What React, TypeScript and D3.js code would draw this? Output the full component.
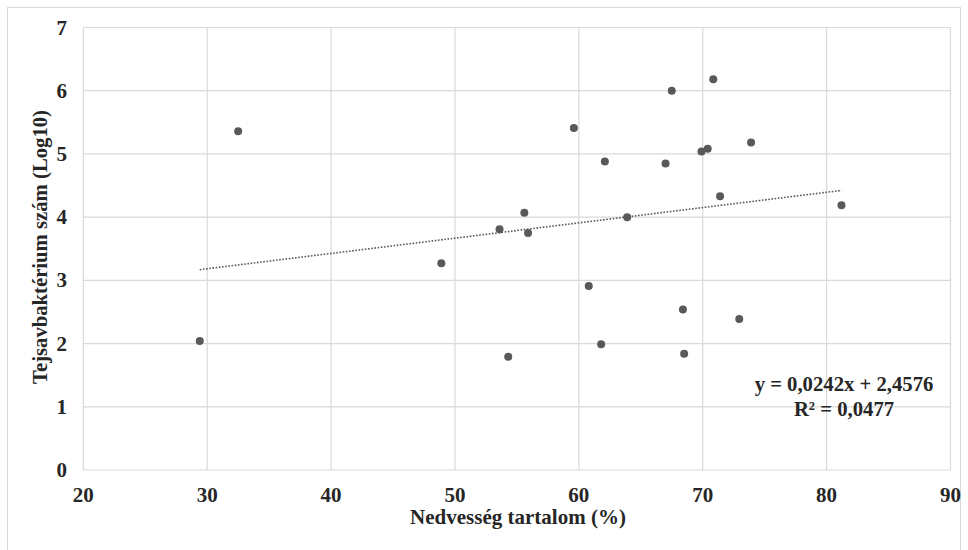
import React from "react";
import * as d3 from "d3";

const moisture = [29.4, 32.5, 48.9, 53.6, 55.6, 55.9, 54.3, 59.6, 60.8, 61.8, 62.1, 63.9, 67.0, 67.5, 68.4, 68.5, 69.9, 70.4, 70.85, 71.4, 72.95, 73.9, 81.2];
const lacticLog = [2.04, 5.36, 3.27, 3.81, 4.07, 3.75, 1.79, 5.41, 2.91, 1.99, 4.88, 4.0, 4.85, 6.0, 2.54, 1.84, 5.04, 5.08, 6.18, 4.33, 2.39, 5.18, 4.19];
const xTicks = [20, 30, 40, 50, 60, 70, 80, 90];
const yTicks = [0, 1, 2, 3, 4, 5, 6, 7];
const slope = 0.0242;
const intercept = 2.4576;
const eqLabel = "y = 0,0242x + 2,4576";
const r2Label = "R² = 0,0477";
const xTitle = "Nedvesség tartalom (%)";
const yTitle = "Tejsavbaktérium szám (Log10)";

export default function App() {
  const W = 968, H = 550;
  const left = 83.3, right = 950.5, top = 27.5, bottom = 470;
  const x = d3.scaleLinear().domain([20, 90]).range([left, right]);
  const y = d3.scaleLinear().domain([0, 7]).range([bottom, top]);
  const minX = d3.min(moisture) as number;
  const maxX = d3.max(moisture) as number;
  const line = d3.line<number>().x((d) => x(d)).y((d) => y(slope * d + intercept));
  const font = "'Liberation Serif', 'Times New Roman', serif";
  const grid = "#d9d9d9";
  const txt = "#262626";
  return (
    <svg width={W} height={H} style={{ position: "absolute", left: 0, top: 0 }} fontFamily={font}>
      <rect x={0} y={0} width={W} height={H} fill="#fff" />
      <rect x={7.5} y={7.5} width={953} height={560} fill="none" stroke="#d9d9d9" strokeWidth={1} />
      {xTicks.map((t) => (
        <line key={"gx" + t} x1={x(t)} x2={x(t)} y1={y(7)} y2={y(0)} stroke={grid} strokeWidth={1.2} />
      ))}
      {yTicks.map((t) => (
        <line key={"gy" + t} x1={x(20)} x2={x(90)} y1={y(t)} y2={y(t)} stroke={grid} strokeWidth={1.2} />
      ))}
      {xTicks.map((t) => (
        <text key={"tx" + t} x={x(t)} y={502} textAnchor="middle" fontSize={21} fontWeight="bold" fill={txt}>
          {t}
        </text>
      ))}
      {yTicks.map((t) => (
        <text key={"ty" + t} x={67} y={y(t) + 7} textAnchor="end" fontSize={21} fontWeight="bold" fill={txt}>
          {t}
        </text>
      ))}
      <path d={line([minX, maxX]) || ""} fill="none" stroke="#595959" strokeWidth={1.6} strokeDasharray="1.6 1.6" />
      {moisture.map((m, i) => (
        <circle key={"p" + i} cx={x(m)} cy={y(lacticLog[i])} r={4} fill="#595959" />
      ))}
      <text x={844} y={391} textAnchor="middle" fontSize={20.7} fontWeight="bold" fill={txt}>{eqLabel}</text>
      <text x={844} y={416} textAnchor="middle" fontSize={20.7} fontWeight="bold" fill={txt}>{r2Label}</text>
      <text x={518} y={524} textAnchor="middle" fontSize={21} fontWeight="bold" fill={txt}>{xTitle}</text>
      <text transform={`translate(47,247) rotate(-90)`} textAnchor="middle" fontSize={20.7} fontWeight="bold" fill={txt}>{yTitle}</text>
    </svg>
  );
}
